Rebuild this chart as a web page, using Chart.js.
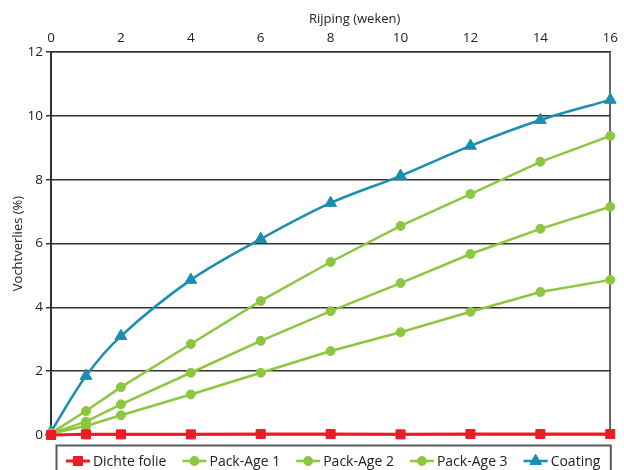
<!DOCTYPE html>
<html>
<head>
<meta charset="utf-8">
<script src="https://cdn.jsdelivr.net/npm/chart.js@4.4.1/dist/chart.umd.min.js"></script>
<style>
  html, body { margin: 0; padding: 0; background: #fff; }
  #wrap { width: 624px; height: 470px; }
</style>
</head>
<body>
<div id="wrap"><canvas id="chart" width="624" height="470"></canvas></div>
<script>
// Data
const weeks = [0, 1, 2, 4, 6, 8, 10, 12, 14, 16];
const dichteFolie = [0.0, 0.02, 0.02, 0.02, 0.03, 0.03, 0.02, 0.03, 0.03, 0.03];
const packAge1 = [0.05, 0.75, 1.5, 2.85, 4.2, 5.42, 6.55, 7.55, 8.56, 9.37];
const packAge2 = [0.05, 0.42, 0.96, 1.95, 2.95, 3.88, 4.76, 5.67, 6.46, 7.15];
const packAge3 = [0.05, 0.28, 0.62, 1.27, 1.95, 2.63, 3.22, 3.86, 4.48, 4.86];
const coating = [0.1, 1.85, 3.1, 4.86, 6.14, 7.27, 8.12, 9.06, 9.87, 10.5];
const seriesLabels = ['Dichte folie', 'Pack-Age 1', 'Pack-Age 2', 'Pack-Age 3', 'Coating'];
const xTicks = [0, 2, 4, 6, 8, 10, 12, 14, 16];
const yTicks = [0, 2, 4, 6, 8, 10, 12];
const xTitle = 'Rijping (weken)';
const yTitle = 'Vochtverlies (%)';

const RED = '#ed1c24';
const GREEN = '#8dc63f';
const BLUE = '#1a8db0';
const FONT = '"Open Sans", sans-serif';

const toXY = vals => weeks.map((w, i) => ({ x: w, y: vals[i] }));

function series(label, vals, color, style, radius, width, tension) {
    return {
        label: label,
        data: toXY(vals),
        borderColor: color,
        backgroundColor: color,
        pointBackgroundColor: color,
        pointBorderColor: color,
        pointStyle: style,
        pointRadius: radius,
        pointHoverRadius: radius,
        pointBorderWidth: 1,
        borderWidth: width,
        tension: tension,
        clip: false
    };
}

// boxed legend with line + marker, and the offset top axis title
const boxLegend = {
    id: 'boxLegend',
    afterDraw(chart) {
        const { ctx, chartArea } = chart;
        ctx.save();
        ctx.strokeStyle = '#5a5a5a';
        ctx.lineWidth = 2;
        const bx = chartArea.left + 5;
        const by = chartArea.bottom + 10;
        ctx.strokeRect(bx + 0.5, by + 0.5, chartArea.right - bx, 60);

        ctx.font = '14px ' + FONT;
        ctx.textBaseline = 'middle';
        ctx.textAlign = 'left';
        const lineLen = 24, gap = 16;
        const items = chart.data.datasets.map(ds => ({ ds: ds, w: lineLen + 3 + ctx.measureText(ds.label).width }));
        const total = items.reduce((s, it) => s + it.w, 0) + gap * (items.length - 1);
        let x = (bx + chartArea.right) / 2 - total / 2;
        const y = by + 16;
        items.forEach(it => {
            const ds = it.ds;
            ctx.strokeStyle = ds.borderColor;
            ctx.lineWidth = ds.borderWidth;
            ctx.beginPath();
            ctx.moveTo(x, y);
            ctx.lineTo(x + lineLen, y);
            ctx.stroke();
            ctx.fillStyle = ds.pointBackgroundColor;
            ctx.strokeStyle = ds.pointBorderColor;
            ctx.lineWidth = 1;
            Chart.helpers.drawPoint(ctx, { pointStyle: ds.pointStyle, radius: ds.pointRadius, rotation: 0, borderWidth: 1 }, x + lineLen / 2, y);
            ctx.fillStyle = '#222';
            ctx.fillText(ds.label, x + lineLen + 3, y + 1);
            x += it.w + gap;
        });

        const xs = chart.scales.x;
        ctx.font = '13px ' + FONT;
        ctx.textAlign = 'center';
        ctx.fillStyle = '#222';
        ctx.fillText(xTitle, (xs.left + xs.right) / 2 + 24, 19);
        ctx.restore();
    }
};

new Chart(document.getElementById('chart').getContext('2d'), {
    type: 'line',
    data: {
        datasets: [
            series(seriesLabels[0], dichteFolie, RED, 'rect', 6.4, 3, 0),
            series(seriesLabels[1], packAge1, GREEN, 'circle', 4.5, 2.5, 0),
            series(seriesLabels[2], packAge2, GREEN, 'circle', 4.5, 2.5, 0),
            series(seriesLabels[3], packAge3, GREEN, 'circle', 4.5, 2.5, 0),
            series(seriesLabels[4], coating, BLUE, 'triangle', 6.8, 2.5, 0.35)
        ]
    },
    options: {
        responsive: false,
        animation: false,
        layout: { padding: { left: 0, right: 3, top: 0, bottom: 35 } },
        plugins: {
            legend: { display: false },
            tooltip: { enabled: false }
        },
        scales: {
            x: {
                type: 'linear',
                position: 'top',
                min: 0,
                max: 16,
                afterBuildTicks: s => { s.ticks = xTicks.map(v => ({ value: v })); },
                afterFit: s => { s.height = 52; },
                ticks: { color: '#222', font: { family: FONT, size: 13.5 }, padding: 6, maxRotation: 0 },
                grid: {
                    drawTicks: false,
                    lineWidth: 2,
                    color: c => (c.tick && c.tick.value === 16) ? '#666' : 'rgba(0,0,0,0)'
                },
                border: { display: true, color: '#333', width: 1.5 }
            },
            y: {
                type: 'linear',
                min: 0,
                max: 12,
                afterBuildTicks: s => { s.ticks = yTicks.map(v => ({ value: v })); },
                afterFit: s => { s.width = 51; },
                ticks: { color: '#222', font: { family: FONT, size: 13.5 }, padding: 3 },
                grid: { color: '#333', lineWidth: 1.5, tickLength: 5 },
                border: { color: '#333', width: 2 },
                title: { display: true, text: yTitle, color: '#222', font: { family: FONT, size: 13 }, padding: { top: 10, bottom: 0 } }
            }
        }
    },
    plugins: [boxLegend]
});
</script>
</body>
</html>
